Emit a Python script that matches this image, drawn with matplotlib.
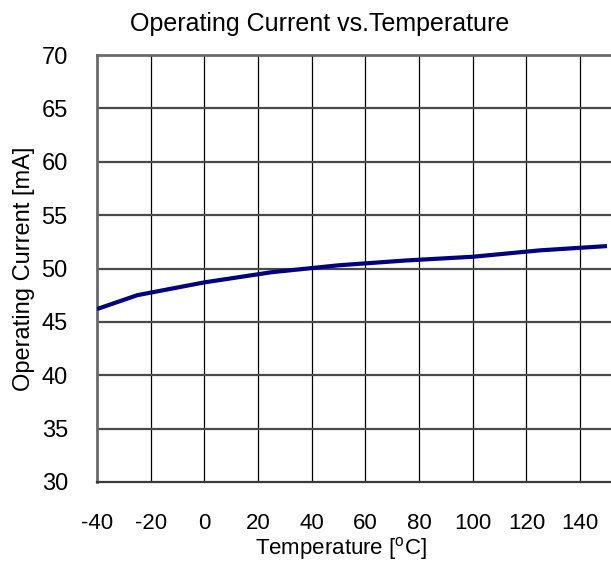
import matplotlib
matplotlib.use("Agg")
import matplotlib.pyplot as plt

plt.rcParams['font.family'] = ['Liberation Sans', 'DejaVu Sans']
plt.rcParams['mathtext.fontset'] = 'custom'
plt.rcParams['mathtext.rm'] = 'Liberation Sans'

# Operating current measured across temperature
temperature_c = [-40, -25, 0, 25, 50, 75, 100, 125, 150]
current_ma = [46.2, 47.5, 48.7, 49.65, 50.3, 50.75, 51.1, 51.7, 52.1]

x_ticks = [-40, -20, 0, 20, 40, 60, 80, 100, 120, 140]
y_ticks = [30, 35, 40, 45, 50, 55, 60, 65, 70]

fig = plt.figure(figsize=(6.11, 5.61), dpi=100)
ax = fig.add_axes([97 / 611, 1 - 482 / 561, 1 - 97 / 611, (482 - 55) / 561])

ax.set_xlim(-40, 151.5)
ax.set_ylim(30, 70)
ax.set_xticks(x_ticks)
ax.set_yticks(y_ticks)
ax.set_xticklabels([str(t) for t in x_ticks])
ax.set_yticklabels([str(t) for t in y_ticks])

# grid: black verticals, grey horizontals
for t in x_ticks[1:]:
    ax.axvline(t, color='black', lw=0.9, zorder=1)
for v in y_ticks[1:-1]:
    ax.axhline(v, color='#4a4a4a', lw=1.6, zorder=1)

ax.plot(temperature_c, current_ma, color='#000080', lw=3.0, zorder=3,
        solid_joinstyle='round', solid_capstyle='butt')

for side in ['left', 'top']:
    ax.spines[side].set_color('#6a6a6a')
    ax.spines[side].set_linewidth(2.0)
ax.spines['bottom'].set_color('#3a3a3a')
ax.spines['bottom'].set_linewidth(1.6)
ax.spines['right'].set_visible(False)

ax.tick_params(axis='both', length=0, colors='black')
ax.tick_params(axis='x', labelsize=16, pad=22)
ax.tick_params(axis='y', labelsize=17, pad=21)

ax.set_title('Operating Current vs.Temperature', fontsize=18, pad=17, x=0.434)
ax.set_xlabel('Temperature [$^{\\mathrm{o}}$C]', fontsize=16, labelpad=1, x=0.475)
ax.set_ylabel('Operating Current [mA]', fontsize=17, labelpad=5)

fig.savefig('out.png', dpi=100)
